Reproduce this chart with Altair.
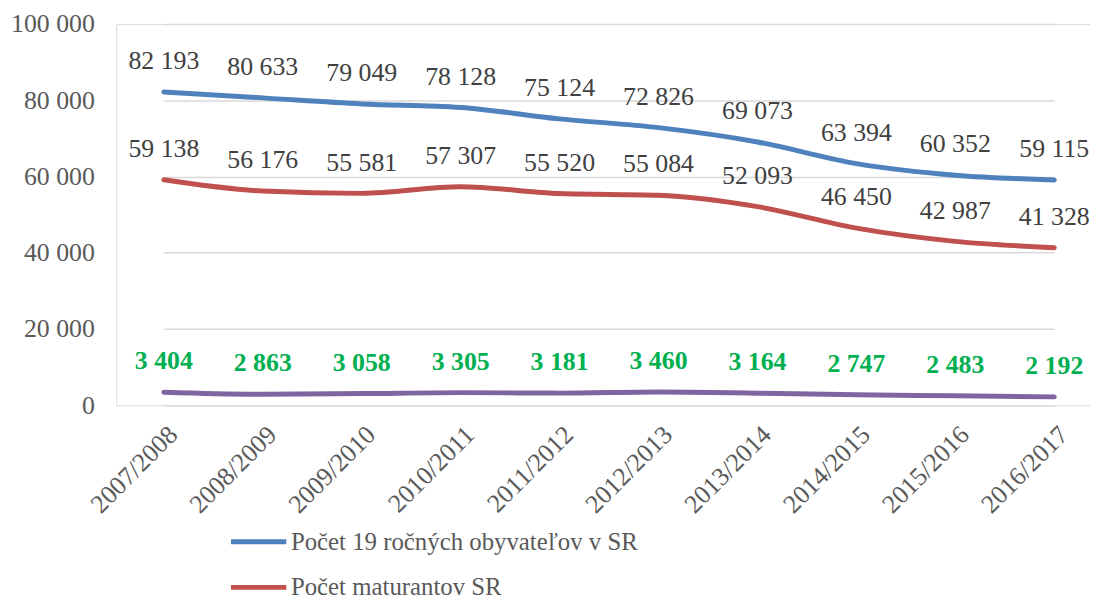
import altair as alt
import pandas as pd

years = ["2007/2008", "2008/2009", "2009/2010", "2010/2011", "2011/2012",
         "2012/2013", "2013/2014", "2014/2015", "2015/2016", "2016/2017"]
obyvatelia = [82193, 80633, 79049, 78128, 75124, 72826, 69073, 63394, 60352, 59115]
maturanti = [59138, 56176, 55581, 57307, 55520, 55084, 52093, 46450, 42987, 41328]
tretia = [3404, 2863, 3058, 3305, 3181, 3460, 3164, 2747, 2483, 2192]

s1 = "Počet 19 ročných obyvateľov v SR"
s2 = "Počet maturantov SR"

FONT = "Liberation Serif"
GRAY = "#595959"
FS = 26

main = pd.DataFrame(
    [{"rok": y, "seria": s1, "hodnota": v} for y, v in zip(years, obyvatelia)]
    + [{"rok": y, "seria": s2, "hodnota": v} for y, v in zip(years, maturanti)]
)
third = pd.DataFrame({"rok": years, "hodnota": tretia})

x = alt.X("rok:N", sort=years, title=None,
          scale=alt.Scale(type="point", range=[48, 945], padding=0),
          axis=alt.Axis(labelAngle=-45, labelFont=FONT, labelFontSize=FS,
                        labelColor=GRAY, domain=False, ticks=False,
                        labelPadding=16, grid=False))
y = alt.Y("hodnota:Q", title=None,
          scale=alt.Scale(domain=[0, 100000]),
          axis=alt.Axis(values=[0, 20000, 40000, 60000, 80000, 100000],
                        labelExpr="replace(format(datum.value, ','), ',', ' ')",
                        labelFont=FONT, labelFontSize=FS, labelColor=GRAY,
                        labelPadding=22, domain=False, ticks=False,
                        gridColor="#d9d9d9", gridWidth=1.5))

color = alt.Color("seria:N", sort=[s1, s2], title=None,
                  scale=alt.Scale(domain=[s1, s2], range=["#4F81BD", "#C0504D"]),
                  legend=alt.Legend(orient="none", legendX=113, legendY=491,
                                    direction="vertical", symbolType="stroke",
                                    symbolSize=3100, symbolStrokeWidth=5,
                                    labelFont=FONT, labelFontSize=25,
                                    labelColor=GRAY, labelLimit=0,
                                    rowPadding=2, labelOffset=2))

lines = alt.Chart(main).mark_line(strokeWidth=5, interpolate="monotone",
                                  strokeCap="round").encode(x=x, y=y, color=color)
labels = alt.Chart(main).mark_text(dy=-31, font=FONT, fontSize=FS, color="#404040").encode(
    x=x, y=y, detail="seria:N",
    text=alt.Text("lbl:N")).transform_calculate(
    lbl="replace(format(datum.hodnota, ','), ',', ' ')")

line3 = alt.Chart(third).mark_line(strokeWidth=5, interpolate="monotone",
                                   strokeCap="round", color="#8064A2").encode(x=x, y=y)
labels3 = alt.Chart(third).mark_text(dy=-31, font=FONT, fontSize=FS, fontWeight="bold",
                                     color="#00B050").encode(
    x=x, y=y, text=alt.Text("lbl:N")).transform_calculate(
    lbl="replace(format(datum.hodnota, ','), ',', ' ')")

chart = alt.layer(lines, line3, labels, labels3).properties(
    width=981, height=384,
    autosize=alt.AutoSizeParams(type="none"),
    padding={"left": 109, "top": 14, "right": 0, "bottom": 189}
).configure_view(stroke=None).configure(background="white")

chart.save("out.html", embed_options={"renderer": "svg", "actions": False})
